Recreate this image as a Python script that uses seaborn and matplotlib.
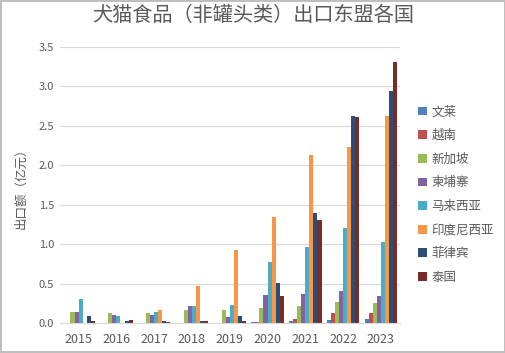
import matplotlib
matplotlib.use("Agg")
import matplotlib.pyplot as plt
import seaborn as sns
import pandas as pd

years = ["2015", "2016", "2017", "2018", "2019", "2020", "2021", "2022", "2023"]
countries = ["文莱", "越南", "新加坡", "柬埔寨", "马来西亚", "印度尼西亚", "菲律宾", "泰国"]

# 亿元
brunei      = [0.00, 0.00, 0.00, 0.00, 0.00, 0.01, 0.03, 0.04, 0.05]
vietnam     = [0.00, 0.00, 0.00, 0.00, 0.00, 0.01, 0.05, 0.13, 0.13]
singapore   = [0.14, 0.13, 0.13, 0.16, 0.16, 0.19, 0.22, 0.26, 0.25]
cambodia    = [0.14, 0.10, 0.10, 0.22, 0.08, 0.35, 0.37, 0.40, 0.34]
malaysia    = [0.30, 0.09, 0.14, 0.22, 0.23, 0.77, 0.96, 1.20, 1.03]
indonesia   = [0.00, 0.00, 0.17, 0.47, 0.93, 1.35, 2.13, 2.23, 2.63]
philippines = [0.09, 0.02, 0.02, 0.02, 0.09, 0.51, 1.40, 2.63, 2.94]
thailand    = [0.02, 0.04, 0.01, 0.02, 0.03, 0.34, 1.31, 2.61, 3.31]

colors = ["#4F81BD", "#C0504D", "#9BBB59", "#8064A2", "#4BACC6", "#F79646", "#2C4D75", "#772C2A"]

series = [brunei, vietnam, singapore, cambodia, malaysia, indonesia, philippines, thailand]
rows = []
for name, vals in zip(countries, series):
    for y, v in zip(years, vals):
        rows.append({"年份": y, "国家": name, "出口额": v})
df = pd.DataFrame(rows)

sns.set_style("white")
plt.rcParams["font.family"] = ["Noto Sans CJK SC", "DejaVu Sans"]

fig = plt.figure(figsize=(5.06, 3.53), dpi=100)
fig.patch.set_edgecolor("#BFBFBF")
fig.patch.set_linewidth(1.5)
ax = fig.add_axes([0.118, 0.085, 0.672, 0.782])

sns.barplot(data=df, x="年份", y="出口额", hue="国家", hue_order=countries,
            order=years, palette=colors, width=0.86, gap=0, ax=ax,
            saturation=1, errorbar=None, linewidth=0)

ax.set_ylim(0, 3.5)
ax.set_yticks([0, 0.5, 1.0, 1.5, 2.0, 2.5, 3.0, 3.5])
ax.set_yticklabels(["0.0", "0.5", "1.0", "1.5", "2.0", "2.5", "3.0", "3.5"])
ax.yaxis.grid(True, color="#D9D9D9", linewidth=0.8)
ax.set_axisbelow(True)
for s in ["top", "right", "left"]:
    ax.spines[s].set_visible(False)
ax.spines["bottom"].set_color("#D9D9D9")
ax.tick_params(axis="y", length=0, labelsize=8, labelcolor="#595959", pad=4)
ax.tick_params(axis="x", length=0, labelsize=9, labelcolor="#595959", pad=7)
ax.set_xlabel("")
ax.set_ylabel("出口额（亿元）", fontsize=9, color="#595959", labelpad=8)

fig.suptitle("犬猫食品（非罐头类）出口东盟各国", fontsize=14.5, color="#595959", y=0.985)

leg = ax.legend(loc="center left", bbox_to_anchor=(1.02, 0.465), frameon=False,
                fontsize=9, labelspacing=0.85, handlelength=0.7, handleheight=0.7,
                handletextpad=0.4)
for t in leg.get_texts():
    t.set_color("#595959")

fig.savefig("out.png", dpi=100)
